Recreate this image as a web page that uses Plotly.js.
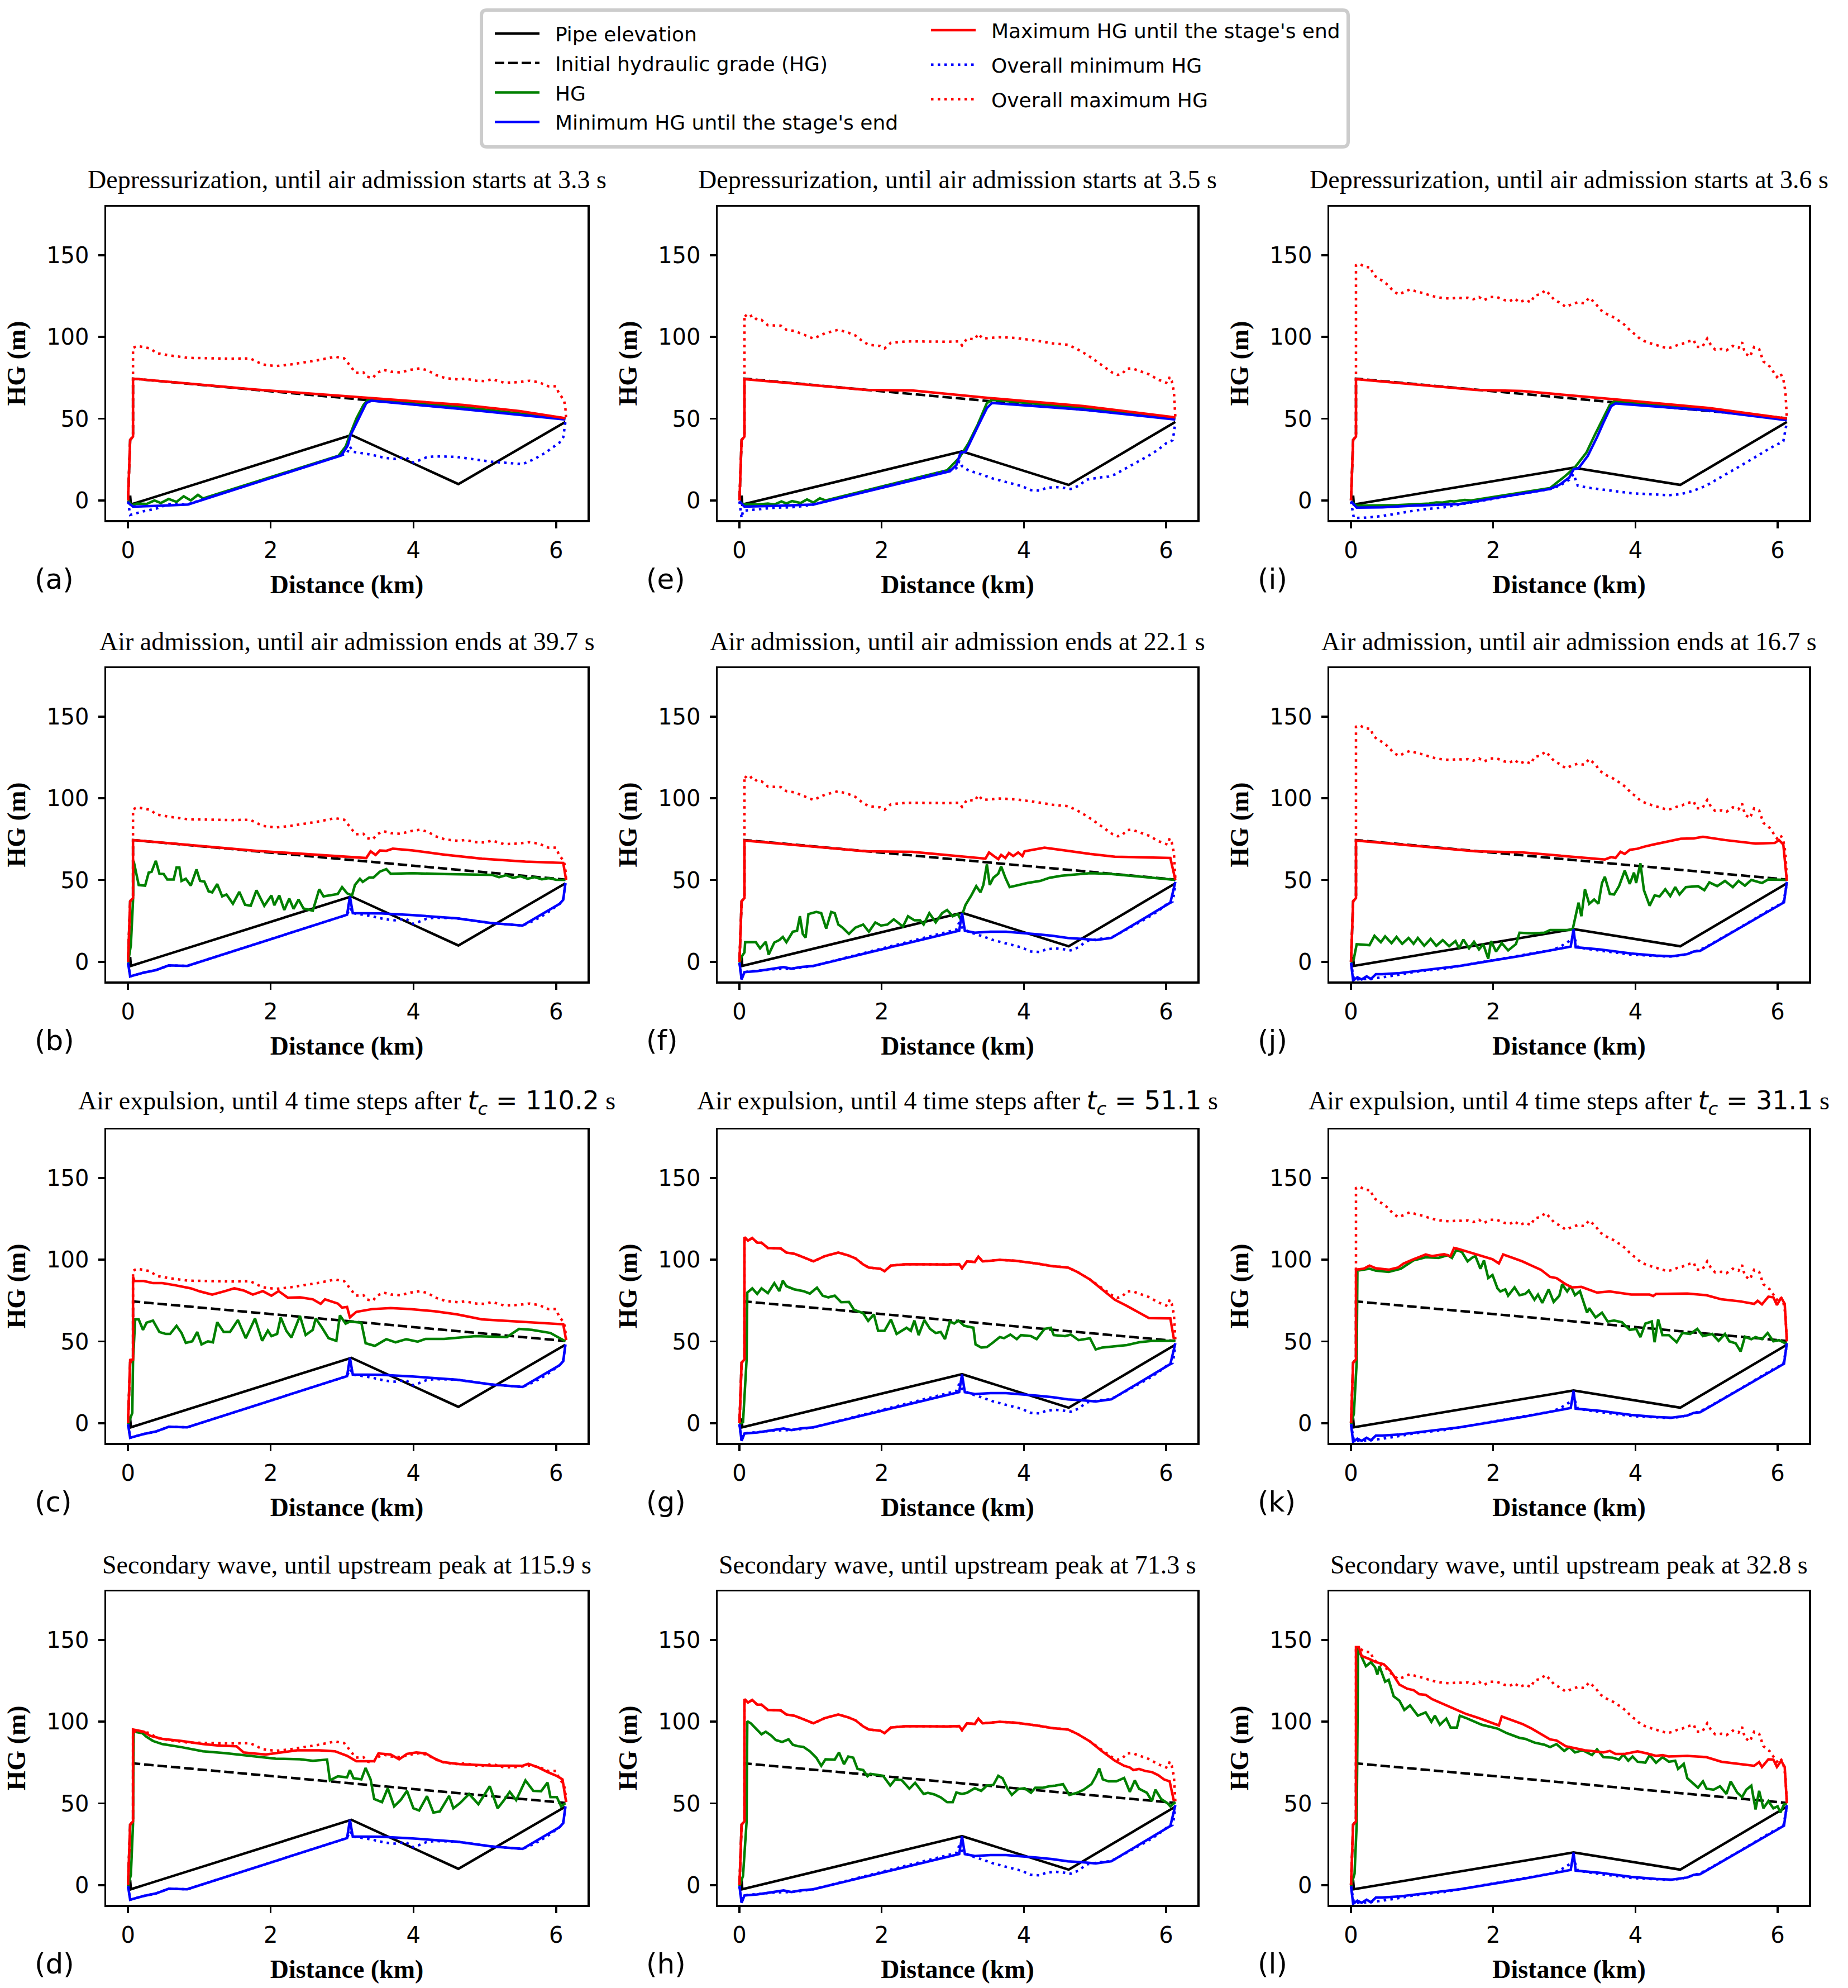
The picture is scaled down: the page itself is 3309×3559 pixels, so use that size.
<!DOCTYPE html>
<html><head><meta charset="utf-8">
<script src="https://cdn.plot.ly/plotly-3.0.1.min.js"></script>
<style>html,body{margin:0;padding:0;background:#fff}#chart{width:3309px;height:3559px}</style>
</head><body><div id="chart"></div>
<script>
// ---------------- DATA (distance km, HG m) ----------------
const xTicks = [0, 2, 4, 6];
const yTicks = [0, 50, 100, 150];

const pipe1 = [[0.03,3],[0.04,-2.5],[3.13,40],[4.63,10],[6.13,48]];
const pipe2 = [[0.03,3],[0.04,-2.5],[3.13,30],[4.63,9.5],[6.13,48]];
const pipe3 = [[0.03,3],[0.04,-2.5],[3.13,20],[4.63,9.5],[6.13,48]];

const initHG = [[0,0],[0.03,37],[0.07,39],[0.07,74.5],[6.13,50.3]];

// column 1 overall envelopes
const omax1 = [[0,0],[0.03,37],[0.07,39],[0.07,93.3],[0.13,94.5],[0.31,93],[0.4,90.1],[0.57,88.8],[0.84,87.2],[1.14,86.9],[1.45,86.7],[1.71,86.9],[1.8,85],[1.89,83.1],[2.07,82.2],[2.24,82.9],[2.46,84.4],[2.68,85.9],[2.9,87.9],[3.03,86.9],[3.1,83.1],[3.19,78],[3.3,78.3],[3.34,75.8],[3.43,74.9],[3.49,78],[3.58,79.9],[3.69,78.7],[3.82,78.3],[3.96,79.9],[4.09,80.8],[4.2,79.6],[4.31,76.8],[4.44,74.9],[4.62,74],[4.73,74.5],[4.88,73.2],[5.01,73],[5.1,74.2],[5.27,72],[5.45,72.3],[5.63,73.2],[5.76,72.3],[5.89,69.8],[6.0,69.8],[6.04,65.4],[6.11,61.5],[6.13,56.5],[6.14,50.1]];
const omin1 = [[0,-0.6],[0.03,-8.9],[0.22,-6.6],[0.39,-5.1],[0.57,-2.2],[0.83,-2.5],[3.07,28.8],[3.11,33],[3.15,29.8],[3.3,28.8],[3.42,27.9],[3.6,26],[3.74,25.4],[3.89,26.4],[4.0,23.2],[4.09,24.7],[4.18,26.3],[4.3,27],[4.61,26.6],[5.09,23.7],[5.53,22.2],[5.7,25.4],[5.85,29.2],[6.05,35.5],[6.1,38.7],[6.13,48]];
const minLate1 = [[0,-0.6],[0.03,-8.9],[0.22,-6.6],[0.39,-5.1],[0.57,-2.2],[0.83,-2.5],[3.07,28.8],[3.11,40],[3.15,29.8],[3.55,29.6],[3.99,28.6],[4.61,26.6],[5.09,23.7],[5.53,22.2],[6.05,35.5],[6.1,38],[6.13,48.2]];

// (a)
const maxA = [[0,0],[0.03,37],[0.07,39],[0.07,74.5],[1.8,67.8],[3.1,63.5],[4.7,58.4],[5.49,54.6],[6.13,50.3]];
const minA = [[0,-1.3],[0.07,-3.8],[0.48,-3.2],[0.84,-2.5],[2.99,27.5],[3.08,33.6],[3.12,40],[3.34,59.6],[3.41,61],[4.7,55.8],[6.13,49.5]];
const hgA = [[0,0],[0.05,-3],[0.13,-1.9],[0.26,-2.2],[0.37,0],[0.46,-1.6],[0.57,0.9],[0.68,-0.9],[0.78,2.5],[0.88,0],[0.98,3.4],[1.05,1.2],[2.95,27.3],[3.05,33],[3.12,41.2],[3.2,50],[3.3,58.4],[3.36,61.5],[4.7,57],[6.13,50]];
// (b)
const maxB = [[0,0],[0.03,37],[0.07,39],[0.07,74.5],[1.8,67.9],[3.34,63.5],[3.4,67.6],[3.47,65.4],[3.53,68.1],[3.62,67.9],[3.71,69.2],[3.99,68.1],[4.43,65.6],[4.96,63.1],[5.57,61.3],[6.1,60.5],[6.14,50.1]];
const hgB = [[0,-0.6],[0.04,10.2],[0.07,37.4],[0.08,61.5],[0.15,47],[0.24,46.6],[0.29,54.6],[0.33,55],[0.39,61.8],[0.44,53.9],[0.5,53.7],[0.55,50.4],[0.64,50.4],[0.68,57.7],[0.72,57.7],[0.75,49.5],[0.81,50.8],[0.88,46.6],[0.96,56.5],[1.01,49.5],[1.07,49.1],[1.13,43.1],[1.18,42.5],[1.25,47.6],[1.32,40],[1.38,41.2],[1.47,35.5],[1.56,42.8],[1.64,34.9],[1.72,34.3],[1.8,43.8],[1.91,34.3],[2.01,40.6],[2.05,34.6],[2.12,40.6],[2.19,31.7],[2.26,38.7],[2.32,32.4],[2.39,38.1],[2.46,32.6],[2.59,31.3],[2.68,44.4],[2.74,40],[2.83,40.6],[2.94,41.5],[3.0,45.7],[3.07,41.9],[3.14,40.6],[3.18,47],[3.25,50.8],[3.29,48.9],[3.38,51.6],[3.44,51.6],[3.53,55.2],[3.62,56.7],[3.68,53.9],[3.99,54.2],[4.43,53.7],[4.87,53.3],[5.1,53.2],[5.2,51.8],[5.3,53],[5.4,51.3],[5.5,52.4],[5.6,50.8],[5.7,51.8],[5.8,50.5],[5.9,51.2],[6.0,50.2],[6.13,50.1]];
// (c)
const maxC = [[0,0],[0.03,38.7],[0.07,39],[0.07,89.5],[0.09,87],[0.22,87],[0.35,85.7],[0.48,85.7],[0.66,84.4],[0.88,82.5],[1.01,80.6],[1.18,78.7],[1.36,80.8],[1.49,82.5],[1.62,81.2],[1.75,78.7],[1.89,80.8],[2.01,78],[2.11,80.8],[2.24,76.8],[2.41,77],[2.59,75.8],[2.7,73],[2.76,75.8],[2.94,73.2],[3.0,70.7],[3.07,71.1],[3.11,64.7],[3.2,68.1],[3.42,69.8],[3.68,70.4],[3.95,69.8],[4.3,68.5],[4.61,66.6],[4.96,63.5],[5.31,62.6],[5.75,61.3],[6.1,60.5],[6.14,50.8]];
const hgC = [[0,-0.6],[0.06,6.3],[0.07,37.4],[0.1,63.5],[0.15,63.5],[0.21,57.1],[0.26,61.5],[0.35,62.8],[0.44,55.8],[0.53,54.6],[0.59,54.6],[0.68,59.6],[0.75,55.2],[0.81,49.1],[0.9,50.1],[0.97,55.8],[1.03,48.2],[1.12,50.1],[1.19,49.5],[1.25,61.8],[1.34,55.8],[1.43,55.8],[1.54,63.1],[1.65,52],[1.71,57.5],[1.78,64.1],[1.88,50.4],[1.96,56.7],[2.01,53.3],[2.09,54.6],[2.14,64.7],[2.22,56.5],[2.29,52.4],[2.36,59.6],[2.41,65.6],[2.49,53.9],[2.59,57.1],[2.63,64.1],[2.72,58.4],[2.81,52],[2.92,50.4],[2.97,66],[3.05,60.9],[3.11,62.2],[3.27,61.5],[3.33,48.9],[3.46,47.3],[3.62,51.4],[3.75,49.5],[3.9,51.4],[4.06,49.9],[4.17,51.6],[4.43,51.6],[4.87,53.3],[5.31,52.7],[5.48,57.7],[5.66,57.1],[5.92,55.2],[6.05,52],[6.13,50.1]];
// (d)
const maxD = [[0,0],[0.03,37],[0.07,39],[0.07,95.2],[0.22,93.9],[0.31,91.4],[0.48,89.5],[0.75,88.2],[1.05,86.3],[1.27,85.4],[1.52,85],[1.62,81.2],[1.71,80.8],[1.93,79.9],[2.15,81.2],[2.37,82.5],[2.68,82.5],[2.9,81.9],[3.07,79.1],[3.2,75.8],[3.45,75.8],[3.51,80.6],[3.68,79.9],[3.8,77],[3.91,80.3],[4.04,81.2],[4.17,80.6],[4.3,77.4],[4.41,75.3],[4.65,74],[5.09,73.2],[5.53,73],[5.61,74.2],[5.75,72],[5.88,69.2],[6.02,66.6],[6.09,64.7],[6.14,50.8]];
const hgD = [[0,-0.6],[0.04,6.3],[0.07,37.4],[0.08,93.9],[0.2,93],[0.26,90.7],[0.35,88.2],[0.48,86.3],[0.75,84.4],[1.05,81.9],[1.36,80.8],[1.62,79.6],[1.8,78.7],[2.07,77.4],[2.41,77],[2.59,76.1],[2.79,76.8],[2.83,64.1],[2.94,66.6],[3.07,66],[3.11,70.4],[3.16,65.4],[3.27,64.7],[3.33,71.7],[3.4,64.7],[3.45,52.7],[3.56,50.8],[3.64,59.3],[3.73,48.2],[3.82,52],[3.91,57.7],[4.0,47],[4.08,45.7],[4.19,54.4],[4.28,44.4],[4.37,45.1],[4.5,54.6],[4.56,47],[4.65,50.1],[4.78,55.8],[4.91,49.5],[5.07,60.5],[5.18,47],[5.26,51.4],[5.35,57.1],[5.44,52],[5.57,64.1],[5.68,57.7],[5.79,57.5],[5.88,62.8],[5.92,53.9],[6.01,53.9],[6.07,48.2],[6.13,50.1]];

// column 2 overall envelopes
const omax2 = [[0,0],[0.03,37],[0.07,39],[0.07,113.8],[0.12,111.7],[0.18,113.3],[0.25,110.4],[0.31,110.4],[0.4,107.2],[0.49,107.2],[0.58,106.9],[0.66,104.4],[0.77,103.7],[0.9,101.5],[1.04,99],[1.12,100.6],[1.2,102.2],[1.39,104.4],[1.52,102.8],[1.63,100.9],[1.74,97.1],[1.82,95.2],[1.98,94.5],[2.04,93],[2.13,96.4],[2.35,97.3],[2.65,97.1],[2.92,97.1],[3.09,97.3],[3.13,94.8],[3.2,99],[3.31,98.6],[3.36,101.9],[3.42,99],[3.66,99.9],[3.88,99.4],[4.18,97.7],[4.4,96.1],[4.62,95.2],[4.75,92.6],[4.91,88.5],[5.0,85.7],[5.08,83.1],[5.17,80.3],[5.25,78],[5.32,76.8],[5.38,77.4],[5.45,80.6],[5.52,80.8],[5.6,79.6],[5.69,78],[5.78,76.8],[5.87,74.2],[5.95,73],[6.02,71.7],[6.05,75.5],[6.08,73],[6.11,66.6],[6.12,56.5],[6.13,50.8]];
const omin2 = [[0,-0.6],[0.03,-10.8],[0.05,-6.3],[0.16,-5.7],[0.34,-5.1],[0.51,-4.4],[0.73,-4.2],[0.9,-3.4],[1.04,-2.5],[3.05,19.7],[3.09,24.1],[3.13,20.9],[3.22,18.4],[3.4,15.9],[3.57,13.3],[3.79,10.8],[3.96,8.9],[4.1,6.3],[4.23,6],[4.31,7.6],[4.44,8.2],[4.58,7.6],[4.66,7],[4.77,8.9],[4.88,12.7],[5.06,14],[5.19,14.6],[5.28,15.9],[5.41,19],[5.58,23.2],[5.76,27.5],[5.89,31.1],[6.0,34.9],[6.09,36.8],[6.11,41.2],[6.13,47.6]];
const minLate2 = [[0,-0.6],[0.03,-10.8],[0.07,-6.3],[0.25,-5.7],[0.47,-4.2],[0.62,-3.2],[0.73,-4.2],[0.86,-3.2],[1.04,-2.5],[3.09,19],[3.13,29.8],[3.17,19],[3.31,17.8],[3.53,18.4],[3.75,18.4],[3.96,17.8],[4.18,16.9],[4.4,15.9],[4.62,14.6],[4.84,14],[5.01,13.3],[5.23,14.6],[6.06,36.2],[6.13,48.9]];

// (e)
const maxE = [[0,0],[0.03,37],[0.07,39],[0.07,74.2],[1.78,67.6],[2.43,67.3],[3.53,62.6],[4.84,57.7],[6.13,50.8]];
const minE = [[0,-0.6],[0.07,-3.8],[0.47,-3.4],[1.04,-2.5],[2.96,17.8],[3.05,21.6],[3.11,29.2],[3.18,29.8],[3.35,45.1],[3.48,56.5],[3.55,59.6],[4.84,55.5],[6.13,49.5]];
const hgE = [[0,-0.6],[0.05,-2.5],[0.25,-2.5],[0.4,-1.9],[0.49,-2.5],[0.59,-0.6],[0.66,-1.9],[0.74,-0.4],[0.86,-1.6],[0.95,0.6],[1.04,-1.3],[1.13,1.3],[1.21,0],[2.92,18.4],[3.09,26],[3.22,34.9],[3.35,46.3],[3.48,59.6],[3.55,61.5],[4.84,56.5],[6.13,50.1]];
// (f)
const maxF = [[0,0],[0.03,37],[0.07,39],[0.07,74.2],[1.78,67.6],[2.43,67.3],[3.46,63.1],[3.51,66.9],[3.59,64.3],[3.64,62.8],[3.68,65.4],[3.74,63.5],[3.79,66.6],[3.85,64.7],[3.92,66.9],[3.98,64.7],[4.01,67.6],[4.14,68.5],[4.29,69.8],[4.62,67.9],[4.93,66],[5.28,64.3],[5.62,63.8],[6.06,63.5],[6.13,50.1]];
const hgF = [[0,-0.6],[0.03,3.2],[0.07,5.7],[0.08,12],[0.23,12],[0.29,8.2],[0.37,12.3],[0.41,4.4],[0.49,11.8],[0.56,13.3],[0.61,15.2],[0.66,12],[0.75,18.4],[0.81,19],[0.85,27.9],[0.89,17.1],[0.93,14.8],[0.97,29.2],[1.08,30.5],[1.15,29.8],[1.22,20.3],[1.29,30.5],[1.34,29.8],[1.39,22.8],[1.45,20.9],[1.54,17.1],[1.63,20.9],[1.74,22.8],[1.82,18.4],[1.91,24.1],[1.99,22.2],[2.08,22.8],[2.17,26],[2.3,21.6],[2.37,27.9],[2.46,25.4],[2.54,25.4],[2.59,22.8],[2.67,29.8],[2.76,24.1],[2.85,29.8],[2.92,31.7],[3.0,27.9],[3.07,29.2],[3.11,26],[3.18,34.9],[3.26,40.6],[3.33,46.3],[3.39,42.5],[3.43,47],[3.48,59.6],[3.52,47],[3.57,51.4],[3.64,53.9],[3.68,58.4],[3.74,51.4],[3.8,45.7],[3.92,47],[4.05,48.2],[4.23,49.5],[4.36,51.4],[4.53,52.7],[4.75,53.7],[4.93,54.2],[5.19,53.9],[5.5,52.7],[5.8,51.4],[6.13,50.1]];
// (g)
const maxG = [[0,0],[0.03,37],[0.07,39],[0.07,113.8],[0.12,111.7],[0.18,113.3],[0.25,110.4],[0.31,110.4],[0.4,107.2],[0.49,107.2],[0.58,106.9],[0.66,104.4],[0.77,103.7],[0.9,101.5],[1.04,99],[1.12,100.6],[1.2,102.2],[1.39,104.4],[1.52,102.8],[1.63,100.9],[1.74,97.1],[1.82,95.2],[1.98,94.5],[2.04,93],[2.13,96.4],[2.35,97.3],[2.65,97.1],[2.92,97.1],[3.09,97.3],[3.13,94.8],[3.2,99],[3.31,98.6],[3.36,101.9],[3.42,99],[3.66,99.9],[3.88,99.4],[4.18,97.7],[4.4,96.1],[4.62,95.2],[4.75,92.6],[4.93,87.9],[5.1,81.9],[5.28,75.5],[5.45,71.7],[5.62,67.6],[5.76,64.3],[6.06,64.1],[6.11,51.4]];
const hgG = [[0,-0.6],[0.05,0.6],[0.1,38.7],[0.11,79.9],[0.18,82.5],[0.25,79.1],[0.31,82.5],[0.4,79.6],[0.49,85.7],[0.56,80.8],[0.61,87.2],[0.66,83.8],[0.77,81.9],[0.9,80.8],[0.99,79.3],[1.09,82.9],[1.17,78],[1.25,77],[1.34,78],[1.43,74],[1.54,74.2],[1.61,69.4],[1.74,67.3],[1.81,62.6],[1.89,66.6],[1.95,56.5],[2.04,56.5],[2.13,63.5],[2.21,54.6],[2.35,58.4],[2.41,56.5],[2.46,62.8],[2.52,53.9],[2.6,63.1],[2.68,57.7],[2.76,55.2],[2.83,55.8],[2.89,51.4],[2.96,62.2],[3.02,61],[3.08,62.8],[3.16,59.6],[3.29,58.4],[3.32,48.2],[3.4,46.3],[3.48,46.6],[3.57,49.5],[3.66,52.7],[3.72,52],[3.81,54.2],[3.9,51.4],[3.96,53.9],[4.1,53.3],[4.18,51.4],[4.29,57.7],[4.38,58.4],[4.42,53.9],[4.58,53.3],[4.66,54.2],[4.77,50.8],[4.93,52],[5.01,45.1],[5.1,46.3],[5.28,47],[5.45,47.8],[5.62,49.5],[5.8,50.4],[6.13,50.4]];
// (h)
const maxH = [[0,0],[0.03,37],[0.07,39],[0.07,113.8],[0.12,111.7],[0.18,113.3],[0.25,110.4],[0.31,110.4],[0.4,107.2],[0.49,107.2],[0.58,106.9],[0.66,104.4],[0.77,103.7],[0.9,101.5],[1.04,99],[1.12,100.6],[1.2,102.2],[1.39,104.4],[1.52,102.8],[1.63,100.9],[1.74,97.1],[1.82,95.2],[1.98,94.5],[2.04,93],[2.13,96.4],[2.35,97.3],[2.65,97.1],[2.92,97.1],[3.09,97.3],[3.13,94.8],[3.2,99],[3.31,98.6],[3.36,101.9],[3.42,99],[3.66,99.9],[3.88,99.4],[4.18,97.7],[4.4,96.1],[4.62,95.2],[4.75,92.6],[4.93,87.9],[5.1,81.9],[5.28,76.1],[5.41,73],[5.49,72],[5.54,70.4],[5.62,71.1],[5.71,69.8],[5.8,69.2],[5.89,67.3],[5.97,64.7],[6.05,63.5],[6.11,51.4]];
const hgH = [[0,-0.6],[0.05,5.7],[0.1,38.7],[0.11,100.3],[0.16,99],[0.25,95.2],[0.31,92.3],[0.37,93.9],[0.45,91.4],[0.51,88.8],[0.6,87.6],[0.69,89.2],[0.75,85.9],[0.82,85],[0.9,84.6],[0.99,81.9],[1.08,78],[1.15,73],[1.21,77],[1.34,76.8],[1.4,81.2],[1.47,74],[1.53,78.7],[1.6,78],[1.66,71.1],[1.74,70.4],[1.8,66.6],[1.84,68.1],[2.02,66.9],[2.12,60.9],[2.19,64.7],[2.28,64.3],[2.39,59],[2.47,62.6],[2.59,55.8],[2.65,56.5],[2.74,55.5],[2.83,53.7],[2.92,50.8],[3.0,50.8],[3.05,56.7],[3.13,55.8],[3.2,56.5],[3.31,59.3],[3.4,57.7],[3.48,60.9],[3.57,61.3],[3.64,66.9],[3.7,65.4],[3.77,59],[3.83,55.2],[3.92,58.8],[4.01,59.3],[4.1,56.5],[4.16,59.6],[4.27,59.6],[4.36,60.5],[4.44,60.9],[4.55,61.8],[4.64,55.2],[4.75,56.5],[4.84,58.4],[4.95,61.8],[5.01,66.4],[5.06,71.4],[5.11,64.7],[5.19,63.5],[5.3,63.5],[5.41,65.6],[5.49,57.1],[5.56,64.1],[5.62,59],[5.73,56.5],[5.8,51.4],[5.85,58.4],[5.93,52.7],[6.02,50.1],[6.06,48.2],[6.13,50.8]];

// column 3 overall envelopes
const omax3 = [[0,0],[0.03,37],[0.07,39],[0.07,143.8],[0.12,144.7],[0.2,142.8],[0.28,142.5],[0.31,138.3],[0.37,136.2],[0.46,133.9],[0.53,131.3],[0.59,128.2],[0.67,126],[0.74,127.5],[0.83,129.1],[0.92,127.8],[1.01,126.9],[1.1,125.6],[1.2,124.4],[1.31,123.7],[1.4,123.5],[1.49,124],[1.58,123.7],[1.64,124],[1.72,123.1],[1.8,124.4],[1.87,122.5],[1.96,124.4],[2.05,124.4],[2.15,122.7],[2.23,121.8],[2.3,123.5],[2.37,121.2],[2.45,122.7],[2.53,121.2],[2.58,125.3],[2.65,126],[2.74,128.6],[2.8,125.6],[2.86,122.7],[2.94,120.9],[3.02,118.4],[3.1,119.9],[3.19,121.2],[3.28,120.6],[3.35,124],[3.44,120.6],[3.5,116.8],[3.59,114.2],[3.67,112.6],[3.75,110.4],[3.81,108.8],[3.88,106.2],[3.93,103.7],[4.01,101.1],[4.07,98.6],[4.16,96.8],[4.25,95.6],[4.34,94.5],[4.45,93],[4.53,93.9],[4.6,95.2],[4.66,95.8],[4.73,97.1],[4.82,98.1],[4.86,93.9],[4.94,93.9],[5.01,99],[5.06,95.2],[5.12,92.3],[5.21,92.6],[5.28,91.8],[5.37,94.5],[5.45,93.3],[5.5,96.8],[5.54,90.1],[5.61,87.9],[5.67,93.9],[5.74,92.6],[5.8,85],[5.89,81.9],[5.95,78.3],[5.99,75.5],[6.04,77.7],[6.08,74.2],[6.11,66.6],[6.12,55.2],[6.13,50.1]];
const omin3 = [[0,-0.6],[0.02,-5.7],[0.04,-10.8],[0.22,-10.5],[0.44,-9.5],[0.66,-8],[0.88,-6.3],[1.1,-5.1],[1.31,-4.2],[1.53,-2.5],[2.8,7],[2.93,8.9],[3.07,12.7],[3.13,16.1],[3.19,8.9],[3.37,7.6],[3.59,6.3],[3.94,4.4],[4.2,3.8],[4.47,3.2],[4.64,3.8],[4.82,6],[4.99,8.9],[5.21,14.3],[5.48,21.2],[5.69,26.6],[5.91,32.4],[6.08,36.2],[6.11,42.5],[6.13,47.8]];
const minLate3 = [[0,-0.6],[0.03,-11.4],[0.09,-9.5],[0.15,-10.8],[0.22,-8.9],[0.28,-10.5],[0.35,-7.6],[0.44,-7.6],[0.66,-7],[0.88,-6],[1.1,-4.7],[1.53,-2.5],[1.97,0.6],[2.41,3.8],[3.09,9.3],[3.13,19.9],[3.16,8.9],[3.5,7.6],[3.94,5.1],[4.29,3.8],[4.51,3.4],[4.64,4.4],[4.73,4.7],[4.82,6.3],[4.91,6.7],[6.09,36.4],[6.13,48.9]];

// (i)
const maxI = [[0,0],[0.03,37],[0.07,39],[0.07,74.2],[1.75,67.6],[2.41,66.9],[3.72,61.8],[5.04,56.5],[5.69,52.7],[6.13,50.1]];
const minI = [[0,-0.6],[0.08,-4.4],[0.44,-4.2],[0.88,-3.2],[1.53,-2.2],[2.8,7],[2.93,9.5],[3.07,14],[3.13,19],[3.2,19.7],[3.33,27.3],[3.46,38.7],[3.55,47.6],[3.66,57.7],[3.72,59.3],[5.04,55],[6.13,49.1]];
const hgI = [[0,-0.6],[0.08,-3.2],[0.66,-2.9],[1.1,-1.9],[1.2,-1.2],[1.29,-1.3],[1.4,-0.4],[1.45,-0.6],[1.6,0.3],[1.69,0],[2.8,7.6],[3.02,15.2],[3.15,20.3],[3.31,29.2],[3.42,39.3],[3.53,48.9],[3.64,58.4],[3.7,60.5],[5.04,55.8],[6.13,49.9]];
// (j)
const maxJ = [[0,0],[0.03,37],[0.07,39],[0.07,74.2],[1.75,67.6],[2.41,66.9],[3.57,62.6],[3.66,64.1],[3.72,63.5],[3.79,67.3],[3.85,66],[3.92,68.5],[4.03,69.2],[4.12,70.4],[4.25,71.7],[4.38,73],[4.51,74.2],[4.64,75.3],[4.82,75.5],[4.95,76.5],[5.26,74.5],[5.69,72.3],[5.96,72.7],[6.02,74.5],[6.08,71.7],[6.13,49.5]];
const hgJ = [[0,-0.6],[0.04,1.9],[0.08,10.8],[0.26,10.2],[0.33,15.9],[0.42,12],[0.48,15.6],[0.57,11.4],[0.64,15.2],[0.72,11],[0.81,14.6],[0.88,11],[0.94,14.6],[1.03,9.8],[1.12,14],[1.2,9.8],[1.29,13.3],[1.38,9.5],[1.47,12.7],[1.52,8.2],[1.58,13.6],[1.66,8.2],[1.73,12.3],[1.8,7.6],[1.86,10.8],[1.93,1.9],[1.97,12.7],[2.04,6.3],[2.12,11.4],[2.21,7],[2.32,10.8],[2.37,17.8],[2.54,17.4],[2.72,17.8],[2.8,19.4],[3.07,19.4],[3.12,20.3],[3.2,36.2],[3.24,27.9],[3.29,44.4],[3.35,35.5],[3.42,38.1],[3.48,35.5],[3.53,48.2],[3.57,52],[3.64,41.5],[3.7,41.2],[3.77,46.3],[3.85,55.8],[3.92,47.6],[3.98,54.6],[4.01,48.2],[4.07,60.3],[4.12,43.8],[4.2,34.3],[4.27,40.6],[4.34,40],[4.42,44.4],[4.49,40.2],[4.56,45.7],[4.62,41.2],[4.71,45.7],[4.88,46.3],[4.97,43.8],[5.04,48.6],[5.15,46.3],[5.26,49.5],[5.37,45.7],[5.45,49.5],[5.54,46.6],[5.63,50.1],[5.78,48.2],[5.87,50.4],[6.13,50.1]];
// (k)
const maxK = [[0,0],[0.03,37],[0.07,39],[0.07,93.9],[0.18,94.5],[0.26,96.4],[0.35,94.8],[0.53,93.9],[0.66,95.2],[0.74,97.7],[0.88,100.3],[1.05,103.2],[1.14,102.2],[1.31,103.4],[1.4,102.2],[1.45,107.2],[1.51,106.6],[1.66,104.7],[1.84,102.2],[1.99,100.3],[2.08,97.7],[2.14,103.2],[2.28,101.1],[2.41,99],[2.54,96.4],[2.67,93.9],[2.8,89.5],[2.89,88.8],[3.02,85],[3.11,83.1],[3.24,83.4],[3.33,81.9],[3.46,79.9],[3.64,80.6],[3.81,79.6],[3.94,78.7],[4.2,78.7],[4.25,77.8],[4.29,79.1],[4.73,79.3],[5.0,78.3],[5.21,75.8],[5.48,74.5],[5.67,73],[5.72,74.9],[5.78,72.7],[5.87,77.4],[5.94,77],[5.99,72.3],[6.05,76.8],[6.1,73],[6.13,50.1]];
const hgK = [[0,-0.6],[0.04,5.7],[0.08,37.4],[0.09,93.3],[0.26,94.5],[0.35,93.3],[0.53,92.6],[0.7,94.5],[0.88,99.6],[1.05,101.5],[1.23,101.1],[1.36,102.8],[1.42,101.1],[1.48,106],[1.56,104.7],[1.64,99],[1.71,101.5],[1.75,102.2],[1.82,94.5],[1.87,99.6],[1.93,88.8],[1.99,90.7],[2.06,82.5],[2.1,80.6],[2.17,81.9],[2.21,78],[2.3,83.1],[2.37,78.3],[2.45,79.1],[2.5,81.2],[2.58,75.5],[2.63,78.7],[2.69,73.6],[2.78,81.9],[2.85,74.2],[2.93,78],[2.97,85],[3.04,80.6],[3.09,83.8],[3.15,78.3],[3.22,80.8],[3.32,67.6],[3.35,70.4],[3.44,64.7],[3.53,67.6],[3.61,62.2],[3.7,62.8],[3.81,61.8],[3.92,57.1],[4.01,57.7],[4.07,52.7],[4.14,60.9],[4.23,62.2],[4.27,49.5],[4.32,63.5],[4.38,53.9],[4.47,53.9],[4.58,49.5],[4.66,55.2],[4.77,54.6],[4.87,57.7],[4.95,53.3],[5.08,54.6],[5.17,50.4],[5.26,54.6],[5.32,50.1],[5.41,48.9],[5.48,43.8],[5.54,52.9],[5.63,51.4],[5.69,52.7],[5.78,51.4],[5.86,55.2],[5.94,50.1],[6.02,50.8],[6.11,48.9],[6.13,49.5]];
// (l)
const maxL = [[0,0],[0.03,37],[0.07,39],[0.07,145.6],[0.11,145.6],[0.15,140.2],[0.26,138.3],[0.35,136.4],[0.46,135.2],[0.55,131.3],[0.61,127.5],[0.68,122.7],[0.79,120.2],[0.88,119.3],[0.96,116.8],[1.05,116.4],[1.14,113.8],[1.25,111.7],[1.36,109.5],[1.49,107.2],[1.62,104.7],[1.8,102.2],[1.95,99.6],[2.08,97.7],[2.12,103.2],[2.28,100.6],[2.41,98.6],[2.54,95.8],[2.67,92.6],[2.8,89.2],[2.89,88.5],[3.02,85],[3.15,83.8],[3.29,82.5],[3.42,81.9],[3.55,81.2],[3.64,82.1],[3.72,80.3],[3.85,80.3],[3.94,81.2],[4.03,81.9],[4.16,80.6],[4.29,79.1],[4.38,79.6],[4.47,78.7],[4.73,79.1],[5.0,78.3],[5.21,75.5],[5.48,74.2],[5.67,73],[5.74,75.3],[5.78,72.3],[5.87,77],[5.94,76.8],[5.99,72.3],[6.05,76.1],[6.1,72.3],[6.13,50.1]];
const hgL = [[0,-0.6],[0.05,7],[0.08,37.4],[0.1,145.3],[0.15,139.6],[0.21,133.9],[0.28,136.4],[0.34,133.2],[0.37,128.8],[0.4,133.9],[0.48,124.4],[0.53,125.6],[0.6,115.5],[0.68,112.9],[0.75,107.2],[0.83,110],[0.94,103.7],[1.05,105.7],[1.13,99.9],[1.18,103.7],[1.25,98.1],[1.34,101.9],[1.4,96.4],[1.49,96.4],[1.53,103.7],[1.62,102.2],[1.84,98.1],[2.06,95.8],[2.19,93],[2.37,90.1],[2.45,89.5],[2.58,87.2],[2.72,85.9],[2.8,84.4],[2.89,86.3],[3.0,82.1],[3.07,84.4],[3.15,81.2],[3.26,82.5],[3.39,79.6],[3.46,83.1],[3.55,78.3],[3.68,78],[3.77,76.8],[3.83,79.9],[3.9,76.1],[3.96,78.7],[4.03,75.5],[4.14,74.9],[4.2,79.6],[4.29,74.9],[4.38,78.3],[4.47,75.5],[4.56,76.1],[4.6,71.1],[4.68,74.2],[4.73,65.4],[4.78,63.5],[4.88,59.6],[4.95,63.5],[5.0,59],[5.1,58.4],[5.19,60.5],[5.28,55.8],[5.34,63.5],[5.43,56.7],[5.5,53.9],[5.56,58.4],[5.63,60.9],[5.69,46.3],[5.74,57.7],[5.8,47],[5.87,51.4],[5.94,47],[6.0,48.2],[6.04,44.4],[6.09,49.5],[6.13,49.5]];

const TC = (v) => '<span style="font-family:DejaVu Sans"><i>t</i><sub><i>c</i></sub> = ' + v + '</span>';
const titles = [
  'Depressurization, until air admission starts at 3.3 s',
  'Depressurization, until air admission starts at 3.5 s',
  'Depressurization, until air admission starts at 3.6 s',
  'Air admission, until air admission ends at 39.7 s',
  'Air admission, until air admission ends at 22.1 s',
  'Air admission, until air admission ends at 16.7 s',
  'Air expulsion, until 4 time steps after ' + TC('110.2') + ' s',
  'Air expulsion, until 4 time steps after ' + TC('51.1') + ' s',
  'Air expulsion, until 4 time steps after ' + TC('31.1') + ' s',
  'Secondary wave, until upstream peak at 115.9 s',
  'Secondary wave, until upstream peak at 71.3 s',
  'Secondary wave, until upstream peak at 32.8 s'
];
const letters = ['(a)','(e)','(i)','(b)','(f)','(j)','(c)','(g)','(k)','(d)','(h)','(l)'];

// panels in row-major order
const panels = [
  {pipe:pipe1, hg:hgA, min:minA, max:maxA, omin:omin1, omax:omax1},
  {pipe:pipe2, hg:hgE, min:minE, max:maxE, omin:omin2, omax:omax2},
  {pipe:pipe3, hg:hgI, min:minI, max:maxI, omin:omin3, omax:omax3},
  {pipe:pipe1, hg:hgB, min:minLate1, max:maxB, omin:omin1, omax:omax1},
  {pipe:pipe2, hg:hgF, min:minLate2, max:maxF, omin:omin2, omax:omax2},
  {pipe:pipe3, hg:hgJ, min:minLate3, max:maxJ, omin:omin3, omax:omax3},
  {pipe:pipe1, hg:hgC, min:minLate1, max:maxC, omin:omin1, omax:omax1},
  {pipe:pipe2, hg:hgG, min:minLate2, max:maxG, omin:omin2, omax:omax2},
  {pipe:pipe3, hg:hgK, min:minLate3, max:maxK, omin:omin3, omax:omax3},
  {pipe:pipe1, hg:hgD, min:minLate1, max:maxD, omin:omin1, omax:omax1},
  {pipe:pipe2, hg:hgH, min:minLate2, max:maxH, omin:omin2, omax:omax2},
  {pipe:pipe3, hg:hgL, min:minLate3, max:maxL, omin:omin3, omax:omax3}
];

// ---------------- STYLE / LAYOUT ----------------
const W = 3309, H = 3559;
const colPx = [[190,1052],[1285,2144],[2380,3239]];
const rowPx = [[370,931],[1196,1757],[2022,2583],[2849,3410]];
const LW = 4.5;
const GAP = '\u00a0\u00a0';
const STY = {
  pipe:{name:'Pipe elevation', color:'#000000', dash:'solid', legend:'legend'},
  init:{name:'Initial hydraulic grade (HG)', color:'#000000', dash:'17px,7px', legend:'legend'},
  hg:{name:'HG', color:'#008000', dash:'solid', legend:'legend'},
  min:{name:"Minimum HG until the stage's end", color:'#0000ff', dash:'solid', legend:'legend'},
  max:{name:"Maximum HG until the stage's end", color:'#ff0000', dash:'solid', legend:'legend2'},
  omin:{name:'Overall minimum HG', color:'#0000ff', dash:'4.5px,7.5px', legend:'legend2'},
  omax:{name:'Overall maximum HG', color:'#ff0000', dash:'4.5px,7.5px', legend:'legend2'}
};
const order = ['pipe','init','hg','min','max','omin','omax'];

const SERIF = 'Liberation Serif, Times New Roman, serif';
const SANS = 'DejaVu Sans, sans-serif';

const traces = [];
const layout = {
  width: W, height: H,
  margin: {l:0, r:0, t:0, b:0},
  paper_bgcolor: '#ffffff', plot_bgcolor: '#ffffff',
  font: {family: SANS, size: 36, color: '#000000'},
  showlegend: true,
  annotations: [], shapes: []
};

panels.forEach((p, i) => {
  const r = Math.floor(i / 3), c = i % 3, n = i + 1;
  const xs = n === 1 ? '' : String(n);
  order.forEach(k => {
    const pts = k === 'init' ? initHG : p[k];
    const s = STY[k];
    traces.push({
      type: 'scatter', mode: 'lines',
      x: pts.map(q => q[0]), y: pts.map(q => q[1]),
      xaxis: 'x' + xs, yaxis: 'y' + xs,
      name: GAP + s.name, legend: s.legend, legendgroup: k,
      showlegend: i === 0,
      line: {color: s.color, width: LW, dash: s.dash},
      hoverinfo: 'skip'
    });
  });
  const common = {
    showline: true, linewidth: 3.5, linecolor: '#000000', mirror: true,
    ticks: 'outside', ticklen: 11, tickwidth: 3.5, tickcolor: '#000000',
    showgrid: false, zeroline: false,
    tickfont: {family: SANS, size: 40, color: '#000000'}
  };
  layout['xaxis' + xs] = Object.assign({}, common, {
    domain: [colPx[c][0] / W, colPx[c][1] / W],
    anchor: 'y' + xs, range: [-0.307, 6.44],
    tickmode: 'array', tickvals: xTicks, ticktext: xTicks.map(String),
    ticklabelstandoff: 5,
    title: {text: '<b>Distance (km)</b>', font: {family: SERIF, size: 46}, standoff: 24}
  });
  layout['yaxis' + xs] = Object.assign({}, common, {
    domain: [1 - rowPx[r][1] / H, 1 - rowPx[r][0] / H],
    anchor: 'x' + xs, range: [-12, 179.7],
    tickmode: 'array', tickvals: yTicks, ticktext: yTicks.map(String),
    ticklabelstandoff: 8,
    title: {text: '<b>HG (m)</b>', font: {family: SERIF, size: 46}, standoff: 24}
  });
  layout.annotations.push({
    xref: 'paper', yref: 'paper',
    x: (colPx[c][0] + colPx[c][1]) / 2 / W, y: 1 - (rowPx[r][0] - 48) / H,
    xanchor: 'center', yanchor: 'middle', showarrow: false,
    text: titles[i], font: {family: SERIF, size: 46, color: '#000000'}
  });
  layout.annotations.push({
    xref: 'paper', yref: 'paper',
    x: (colPx[c][0] - 130) / W, y: 1 - (rowPx[r][1] + 106) / H,
    xanchor: 'left', yanchor: 'middle', showarrow: false,
    text: letters[i], font: {family: SANS, size: 50, color: '#000000'}
  });
});

layout.legend = {
  x: 881 / W, y: 1 - 30 / H, xanchor: 'left', yanchor: 'top',
  bgcolor: 'rgba(0,0,0,0)', borderwidth: 0,
  font: {family: SANS, size: 36, color: '#000000'},
  itemwidth: 80, traceorder: 'grouped', tracegroupgap: 3
};
layout.legend2 = {
  x: 1662 / W, y: 1 - 24 / H, xanchor: 'left', yanchor: 'top',
  bgcolor: 'rgba(0,0,0,0)', borderwidth: 0,
  font: {family: SANS, size: 36, color: '#000000'},
  itemwidth: 80, traceorder: 'grouped', tracegroupgap: 12
};

// rounded legend frame
(function(){
  const x0 = 862 / W, x1 = 2414 / W, y0 = 1 - 263 / H, y1 = 1 - 18 / H;
  const rx = 10 / W, ry = 10 / H;
  const path = `M${x0+rx},${y1} L${x1-rx},${y1} Q${x1},${y1} ${x1},${y1-ry} L${x1},${y0+ry} Q${x1},${y0} ${x1-rx},${y0} L${x0+rx},${y0} Q${x0},${y0} ${x0},${y0+ry} L${x0},${y1-ry} Q${x0},${y1} ${x0+rx},${y1} Z`;
  layout.shapes.push({type:'path', xref:'paper', yref:'paper', path: path,
    line:{color:'#cccccc', width:6}, fillcolor:'#ffffff', layer:'below'});
})();

Plotly.newPlot('chart', traces, layout, {staticPlot: true, displayModeBar: false});
</script></body></html>
